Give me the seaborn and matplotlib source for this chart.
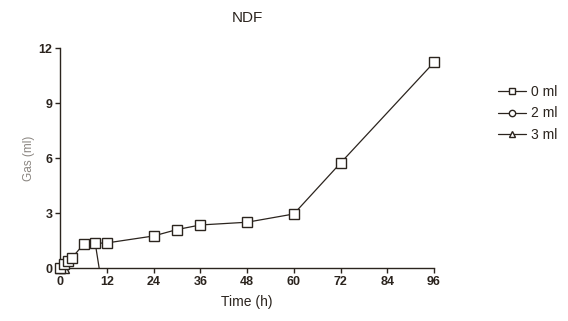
import pandas as pd
import matplotlib.pyplot as plt
import seaborn as sns

# NDF gas production
time_0ml = [0, 1, 2, 3, 6, 9, 12, 24, 30, 36, 48, 60, 72, 96]
gas_0ml = [0, 0.2, 0.4, 0.55, 1.3, 1.35, 1.37, 1.75, 2.1, 2.35, 2.5, 2.95, 5.73, 11.22]
time_2ml = [9, 10]
gas_2ml = [1.35, 0]
time_3ml = [0, 1]
gas_3ml = [0, 0]

x_ticks = [0, 12, 24, 36, 48, 60, 72, 84, 96]
y_ticks = [0, 3, 6, 9, 12]

sns.set_style('ticks')
plt.rcParams['font.family'] = ['Liberation Sans', 'DejaVu Sans']

ink = '#2b241e'
fig = plt.figure(figsize=(5.68, 3.21), dpi=100)
ax = fig.add_axes([0.106, 0.165, 0.658, 0.685])

df0 = pd.DataFrame({'t': time_0ml, 'gas': gas_0ml})
df2 = pd.DataFrame({'t': time_2ml, 'gas': gas_2ml})
df3 = pd.DataFrame({'t': time_3ml, 'gas': gas_3ml})

style = dict(color=ink, linewidth=0.9, markersize=6.5, markerfacecolor='white',
             markeredgecolor=ink, markeredgewidth=1.0, clip_on=False)
sns.lineplot(data=df3, x='t', y='gas', marker='^', label='3 ml', ax=ax, zorder=2, **style)
sns.lineplot(data=df2, x='t', y='gas', marker='o', label='2 ml', ax=ax, zorder=3,
             markevery=[0], **style)
sns.lineplot(data=df0, x='t', y='gas', marker='s', label='0 ml', ax=ax, zorder=4, **style)

ax.set_xlim(0, 96)
ax.set_ylim(0, 12)
ax.set_xticks(x_ticks)
ax.set_yticks(y_ticks)
sns.despine(ax=ax)
for s in ['left', 'bottom']:
    ax.spines[s].set_color(ink)
    ax.spines[s].set_linewidth(1.0)
ax.tick_params(colors=ink, labelsize=9, length=3.5, width=1.0, pad=2)
for lab in ax.get_xticklabels() + ax.get_yticklabels():
    lab.set_fontweight('bold')

ax.set_xlabel('Time (h)', fontsize=10, color=ink, labelpad=5)
ax.set_ylabel('Gas (ml)', fontsize=8.5, color='#8a8580', labelpad=3)
ax.set_title('NDF', fontsize=11, color=ink, pad=19)

handles, labels = ax.get_legend_handles_labels()
order = [labels.index(l) for l in ['0 ml', '2 ml', '3 ml']]
ax.legend([handles[i] for i in order], [labels[i] for i in order],
          loc='upper left', bbox_to_anchor=(0.855, 0.775), bbox_transform=fig.transFigure,
          frameon=False, fontsize=10, handlelength=2.0, handletextpad=0.4,
          labelspacing=0.55, labelcolor=ink, markerscale=0.7)

fig.savefig('out.png', dpi=100)
